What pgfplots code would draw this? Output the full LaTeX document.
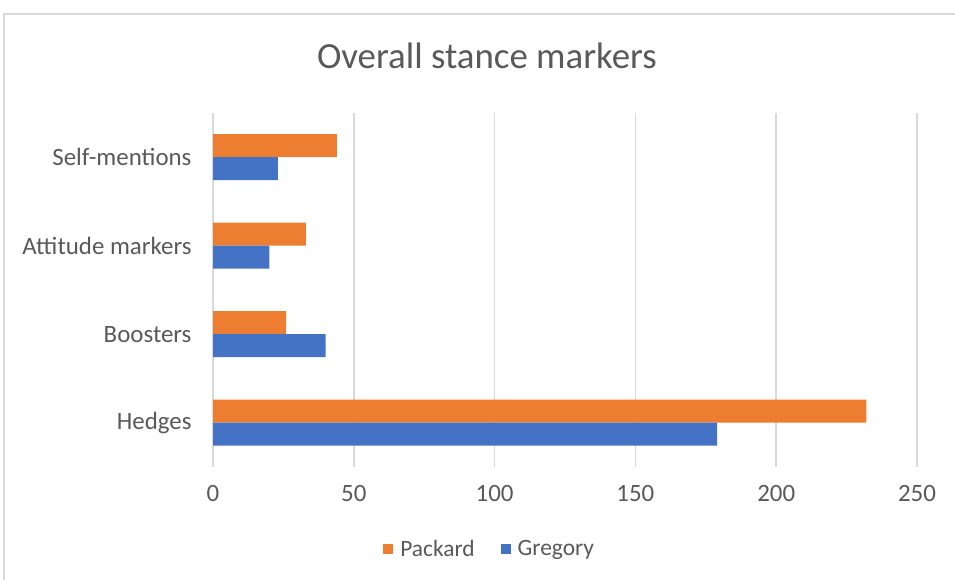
\documentclass[border=0pt]{standalone}
\usepackage{pgfplots}
\pgfplotsset{compat=1.18}
\usepackage{fontspec}
\setmainfont{Carlito}
\definecolor{cOrange}{HTML}{ED7D31}
\definecolor{cBlue}{HTML}{4472C4}
\definecolor{cGrid}{HTML}{D9D9D9}
\definecolor{cText}{HTML}{595959}
\begin{document}
\begin{tikzpicture}[x=1bp,y=1bp]
\useasboundingbox (0,0) rectangle (955,580);
\draw[cGrid, line width=1.5bp] (4,0) -- (4,566) -- (955,566);
\begin{axis}[
  at={(213bp,113bp)}, anchor=south west,
  scale only axis, width=704bp, height=354bp,
  xbar, bar width=23bp,
  xmin=0, xmax=250, ymin=-0.5, ymax=3.5,
  xtick={0,50,100,150,200,250},
  ytick={0,1,2,3},
  yticklabels={Hedges,Boosters,Attitude markers,Self-mentions},
  xmajorgrids, major grid style={cGrid, line width=1.5bp},
  axis x line*=bottom, axis y line*=left,
  x axis line style={draw=none},
  y axis line style={draw=cGrid, line width=1.5bp},
  major tick length=0pt,
  tick label style={font=\fontsize{25}{30}\selectfont, text=cText},
  /pgf/number format/assume math mode=true,
  xticklabel style={yshift=-15bp},
  yticklabel style={xshift=-18bp},
  title={Overall stance markers},
  title style={font=\fontsize{37}{44}\selectfont, text=cText, at={(0.389,1.145)}, anchor=center},
  legend style={draw=none, at={(0.393,-0.232)}, anchor=center, legend columns=2,
    font=\fontsize{23.5}{28}\selectfont, text=cText,
    /tikz/every even column/.append style={column sep=24bp}},
  legend image code/.code={\path (0bp,0bp) -- (15bp,0bp);\fill[#1] (0bp,-5bp) rectangle (10bp,5bp);},
  enlargelimits=false, clip=false,
]
\addplot[fill=cOrange, draw=none, bar shift=11.5bp] coordinates {(232,0) (26,1) (33,2) (44,3)};
\addplot[fill=cBlue, draw=none, bar shift=-11.5bp] coordinates {(179,0) (40,1) (20,2) (23,3)};
\legend{Packard,Gregory}
\end{axis}
\end{tikzpicture}
\end{document}
